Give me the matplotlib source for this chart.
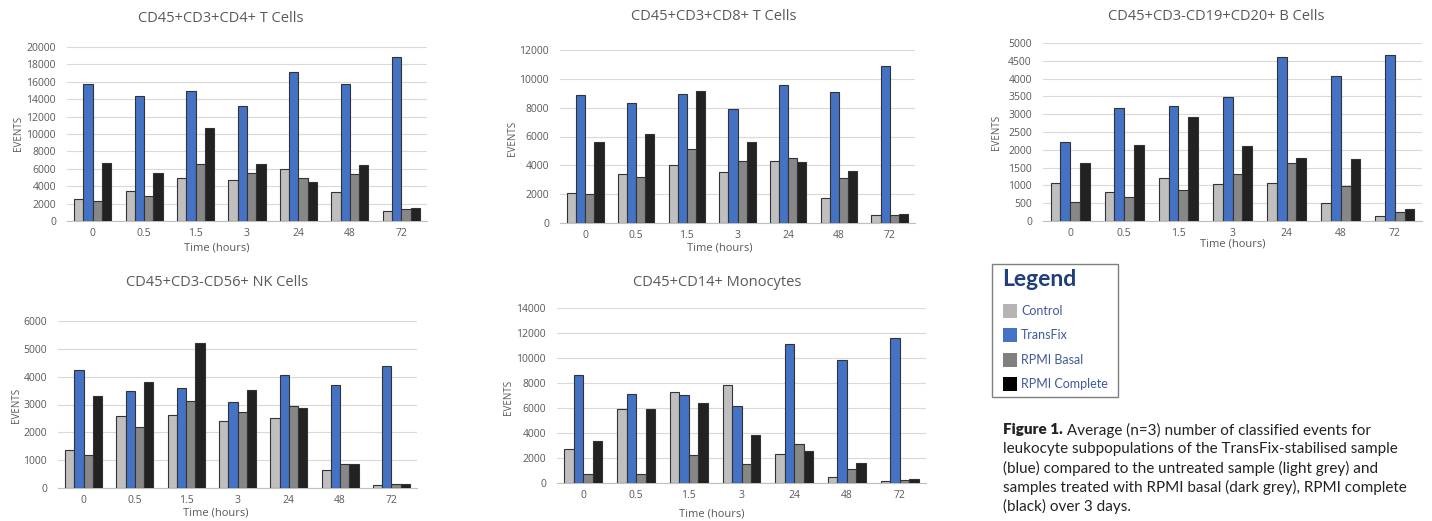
import matplotlib
matplotlib.use('Agg')
import matplotlib.pyplot as plt
import numpy as np
from matplotlib.patches import Rectangle

# ---------------- data ----------------
times = ['0', '0.5', '1.5', '3', '24', '48', '72']
series = ['Control', 'TransFix', 'RPMI Basal', 'RPMI Complete']
colors = ['#BFBFBF', '#4472C4', '#878787', '#222222']
legend_colors = ['#B4B4B4', '#4472C4', '#808080', '#000000']

cd4_control  = [2500, 3400, 4900, 4700, 6000, 3300, 1200]
cd4_transfix = [15800, 14400, 15000, 13200, 17100, 15800, 18900]
cd4_basal    = [2300, 2900, 6500, 5500, 5000, 5400, 1400]
cd4_complete = [6700, 5500, 10700, 6500, 4500, 6400, 1500]

cd8_control  = [2050, 3400, 4000, 3550, 4300, 1700, 550]
cd8_transfix = [8850, 8300, 8950, 7900, 9550, 9100, 10900]
cd8_basal    = [2000, 3200, 5150, 4300, 4500, 3150, 550]
cd8_complete = [5600, 6200, 9150, 5600, 4200, 3600, 600]

b_control  = [1070, 810, 1200, 1030, 1080, 500, 140]
b_transfix = [2220, 3180, 3230, 3480, 4600, 4080, 4660]
b_basal    = [540, 670, 870, 1320, 1640, 990, 250]
b_complete = [1630, 2130, 2920, 2110, 1760, 1730, 340]

nk_control  = [1350, 2570, 2620, 2420, 2520, 630, 90]
nk_transfix = [4250, 3500, 3580, 3100, 4050, 3700, 4380]
nk_basal    = [1200, 2200, 3130, 2740, 2960, 860, 150]
nk_complete = [3300, 3800, 5220, 3520, 2880, 860, 150]

mono_control  = [2750, 5900, 7250, 7850, 2300, 500, 150]
mono_transfix = [8650, 7150, 7050, 6150, 11100, 9850, 11600]
mono_basal    = [750, 750, 2250, 1550, 3150, 1100, 250]
mono_complete = [3400, 5950, 6400, 3850, 2600, 1600, 300]

titles = ['CD45+CD3+CD4+ T Cells', 'CD45+CD3+CD8+ T Cells', 'CD45+CD3-CD19+CD20+ B Cells',
          'CD45+CD3-CD56+ NK Cells', 'CD45+CD14+ Monocytes']
y_max = [20000, 12000, 5000, 6000, 14000]
y_step = [2000, 2000, 500, 1000, 2000]

panel_data = [
    [cd4_control, cd4_transfix, cd4_basal, cd4_complete],
    [cd8_control, cd8_transfix, cd8_basal, cd8_complete],
    [b_control, b_transfix, b_basal, b_complete],
    [nk_control, nk_transfix, nk_basal, nk_complete],
    [mono_control, mono_transfix, mono_basal, mono_complete],
]

# ---------------- layout (pixels) ----------------
W, H = 1432, 521
fig = plt.figure(figsize=(W / 100, H / 100), dpi=100)
fig.patch.set_facecolor('white')
plt.rcParams['font.family'] = ['Open Sans', 'DejaVu Sans']

def fx(x):
    return x / W

def fy(y):
    return 1 - y / H

# axes box: left, top, right, bottom
boxes = [(67, 47, 427, 221), (560, 50, 915, 223), (1043, 43, 1422, 221),
         (58, 321, 417, 488), (557, 308, 926, 483)]
title_pos = [(221, 18), (714, 17), (1216, 16), (217, 283), (717, 283)]
events_pos = [(18, 133), (512, 138), (997, 132), (17, 405), (509, 397)]
xlabel_pos = [(217, 248), (720, 248), (1233, 244), (216, 513), (712, 514)]

grey_text = '#595959'
bar_w = 0.18

for k in range(5):
    l, t, r, b = boxes[k]
    ax = fig.add_axes([fx(l), fy(b), fx(r - l), (b - t) / H])
    x = np.arange(len(times))
    for i, (vals, c) in enumerate(zip(panel_data[k], colors)):
        ax.bar(x + (i - 1.5) * bar_w, vals, width=bar_w, color=c,
               edgecolor='#333333', linewidth=0.8, zorder=3)
    ax.set_xlim(-0.5, len(times) - 0.5)
    ax.set_ylim(0, y_max[k])
    ax.set_yticks(np.arange(0, y_max[k] + 1, y_step[k]))
    ax.set_xticks(x)
    ax.set_xticklabels(times)
    ax.yaxis.grid(True, color='#D9D9D9', linewidth=0.8, zorder=0)
    ax.set_axisbelow(True)
    for s in ['top', 'right', 'left']:
        ax.spines[s].set_visible(False)
    ax.spines['bottom'].set_color('#BFBFBF')
    ax.tick_params(axis='both', length=0, labelsize=7.5, colors=grey_text)
    ax.tick_params(axis='y', pad=8)
    ax.tick_params(axis='x', pad=5)
    ax.set_facecolor('white')

    tx, ty = title_pos[k]
    fig.text(fx(tx), fy(ty), titles[k], ha='center', va='center', fontsize=10.5, color=grey_text)
    ex, ey = events_pos[k]
    fig.text(fx(ex), fy(ey), 'EVENTS', ha='center', va='center', rotation=90, fontsize=7, color=grey_text)
    lx, ly = xlabel_pos[k]
    fig.text(fx(lx), fy(ly), 'Time (hours)', ha='center', va='center', fontsize=8, color=grey_text)

# ---------------- legend box ----------------
fig.patches.append(Rectangle((fx(992), fy(397)), fx(1118 - 992), (397 - 264) / H,
                             transform=fig.transFigure, facecolor='white',
                             edgecolor='#7F7F7F', linewidth=1.0))
fig.text(fx(1002), fy(280), 'Legend', ha='left', va='center', fontsize=16.5,
         fontweight='bold', color='#1F3E7A', family=['Lato', 'DejaVu Sans'])
item_y = [311, 335, 360, 384]
for name, c, iy in zip(series, legend_colors, item_y):
    fig.patches.append(Rectangle((fx(1003), fy(iy + 7)), fx(14), 14 / H,
                                 transform=fig.transFigure, facecolor=c, edgecolor='none'))
    fig.text(fx(1021), fy(iy), name, ha='left', va='center', fontsize=9,
             color='#3F5A9A', family=['Lato', 'DejaVu Sans'])

# ---------------- caption ----------------
cap_lines = [
    ' Average (n=3) number of classified events for',
    'leukocyte subpopulations of the TransFix-stabilised sample',
    '(blue) compared to the untreated sample (light grey) and',
    'samples treated with RPMI basal (dark grey), RPMI complete',
    '(black) over 3 days.',
]
cap_y = [430, 449, 468, 487, 506]
cap_fs = 11
fig.canvas.draw()
renderer = fig.canvas.get_renderer()
bold = fig.text(fx(1003), fy(cap_y[0]), 'Figure 1.', ha='left', va='center', fontsize=cap_fs,
                fontweight='heavy', color='#222222', family=['Lato', 'DejaVu Sans'])
bb = bold.get_window_extent(renderer=renderer)
fig.text(bb.x1 / W, fy(cap_y[0]), cap_lines[0], ha='left', va='center', fontsize=cap_fs,
         color='#222222', family=['Lato', 'DejaVu Sans'])
for line, yy in zip(cap_lines[1:], cap_y[1:]):
    fig.text(fx(1003), fy(yy), line, ha='left', va='center', fontsize=cap_fs,
             color='#222222', family=['Lato', 'DejaVu Sans'])

fig.savefig('out.png', dpi=100, facecolor='white')
